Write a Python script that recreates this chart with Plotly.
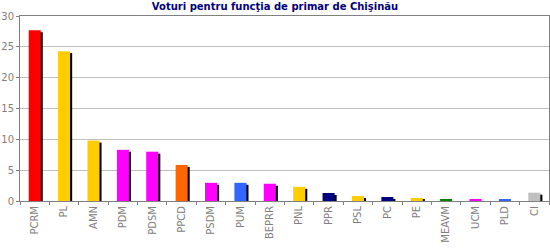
import plotly.graph_objects as go

parties = ["PCRM", "PL", "AMN", "PDM", "PDSM", "PPCD", "PSDM", "PUM", "BEPRR",
           "PNL", "PPR", "PSL", "PC", "PE", "MEAVM", "UCM", "PLD", "CI"]
votes = [27.7, 24.3, 9.8, 8.3, 8.0, 5.85, 2.95, 2.95, 2.8,
         2.3, 1.3, 0.8, 0.65, 0.5, 0.3, 0.3, 0.3, 1.35]
colors = ["#FF0000", "#FFCC00", "#FFCC00", "#FF00FF", "#FF00FF", "#FF6600", "#FF00FF",
          "#3366FF", "#FF00FF", "#FFCC00", "#000080", "#FFCC00", "#000080", "#FFCC00",
          "#008000", "#FF00FF", "#3366FF", "#C0C0C0"]

title = "Voturi pentru funcţia de primar de Chişinău"

bw = 0.41
shadow_shift = 0.07
shadow_drop = 0.32
shadow_vals = [max(v - shadow_drop, 0) for v in votes]

fig = go.Figure()
fig.add_trace(go.Bar(x=parties, y=shadow_vals, marker=dict(color="#000000", line=dict(width=0)),
                     width=bw, offset=-bw / 2 + shadow_shift, hoverinfo="skip", showlegend=False))
fig.add_trace(go.Bar(x=parties, y=votes, marker=dict(color=colors, line=dict(width=0)),
                     width=bw, offset=-bw / 2, showlegend=False))

fig.update_layout(
    width=550, height=250,
    margin=dict(l=20, r=1, t=16, b=49),
    barmode="overlay",
    paper_bgcolor="white", plot_bgcolor="white",
    font=dict(family="DejaVu Sans, Verdana, sans-serif", size=10, color="#808080"),
    title=dict(text="<b>" + title + "</b>", x=0.5, xanchor="center", y=0.975, yanchor="middle",
               font=dict(family="DejaVu Sans, Verdana, sans-serif", size=10, color="#000080")),
    xaxis=dict(tickangle=-90, tickson="boundaries", ticks="outside", ticklen=3,
               tickcolor="#808080", showline=True, linecolor="#808080", linewidth=1,
               mirror=True, showgrid=False, tickfont=dict(size=10, color="#808080"),
               range=[-0.5, len(parties) - 0.5]),
    yaxis=dict(range=[0, 30], dtick=5, ticks="outside", ticklen=3, tickcolor="#808080",
               showline=True, linecolor="#808080", linewidth=1, mirror=True,
               showgrid=True, gridcolor="#C0C0C0", gridwidth=1, zeroline=False,
               tickfont=dict(size=10, color="#808080")),
)

fig.write_html("out.html")
